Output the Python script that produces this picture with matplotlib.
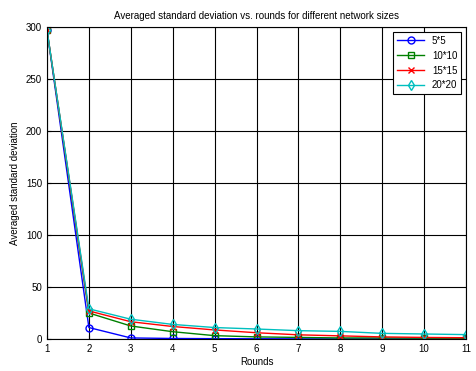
import matplotlib
matplotlib.use("Agg")
import matplotlib.pyplot as plt

plt.rcParams['font.family'] = ['Liberation Sans', 'DejaVu Sans']

rounds = [1, 2, 3, 4, 5, 6, 7, 8, 9, 10, 11]
sd_5 = [297, 11, 1, 0.5, 0.3, 0.2, 0.1, 0.1, 0.1, 0.1, 0.1]
sd_10 = [297, 25, 12.5, 7, 3.2, 2, 1.5, 1, 1, 0.8, 0.7]
sd_15 = [297, 27, 16.6, 12, 8.7, 6, 4, 3, 2, 1.5, 1.2]
sd_20 = [297, 29, 19, 14, 11, 9.6, 8, 7.3, 5.4, 4.8, 4.2]

fig = plt.figure(figsize=(4.77, 3.71), dpi=100)
ax = fig.add_axes([0.0985, 0.0863, 0.8785, 0.8407])

ax.plot(rounds, sd_5, color='blue', marker='o', mfc='none', ms=5, lw=1, label='5*5')
ax.plot(rounds, sd_10, color='green', marker='s', mfc='none', ms=5, lw=1, label='10*10')
ax.plot(rounds, sd_15, color='red', marker='x', ms=5, lw=1, label='15*15')
ax.plot(rounds, sd_20, color='c', marker='d', mfc='none', ms=5, lw=1, label='20*20')

ax.set_xlim(1, 11)
ax.set_ylim(0, 300)
ax.set_xticks(rounds)
ax.set_yticks(range(0, 301, 50))
ax.grid(True, color='black', lw=0.8)
ax.tick_params(labelsize=7, direction='in', length=3)
ax.set_xlabel('Rounds', fontsize=7, labelpad=2)
ax.set_ylabel('Averaged standard deviation', fontsize=7)
ax.set_title('Averaged standard deviation vs. rounds for different network sizes', fontsize=7)

leg = ax.legend(loc='upper right', fontsize=7, fancybox=False, framealpha=1,
                edgecolor='black', borderaxespad=0.5, handlelength=2.8,
                labelspacing=0.5, borderpad=0.4)
leg.get_frame().set_linewidth(0.8)

fig.savefig('out.png', dpi=100)
